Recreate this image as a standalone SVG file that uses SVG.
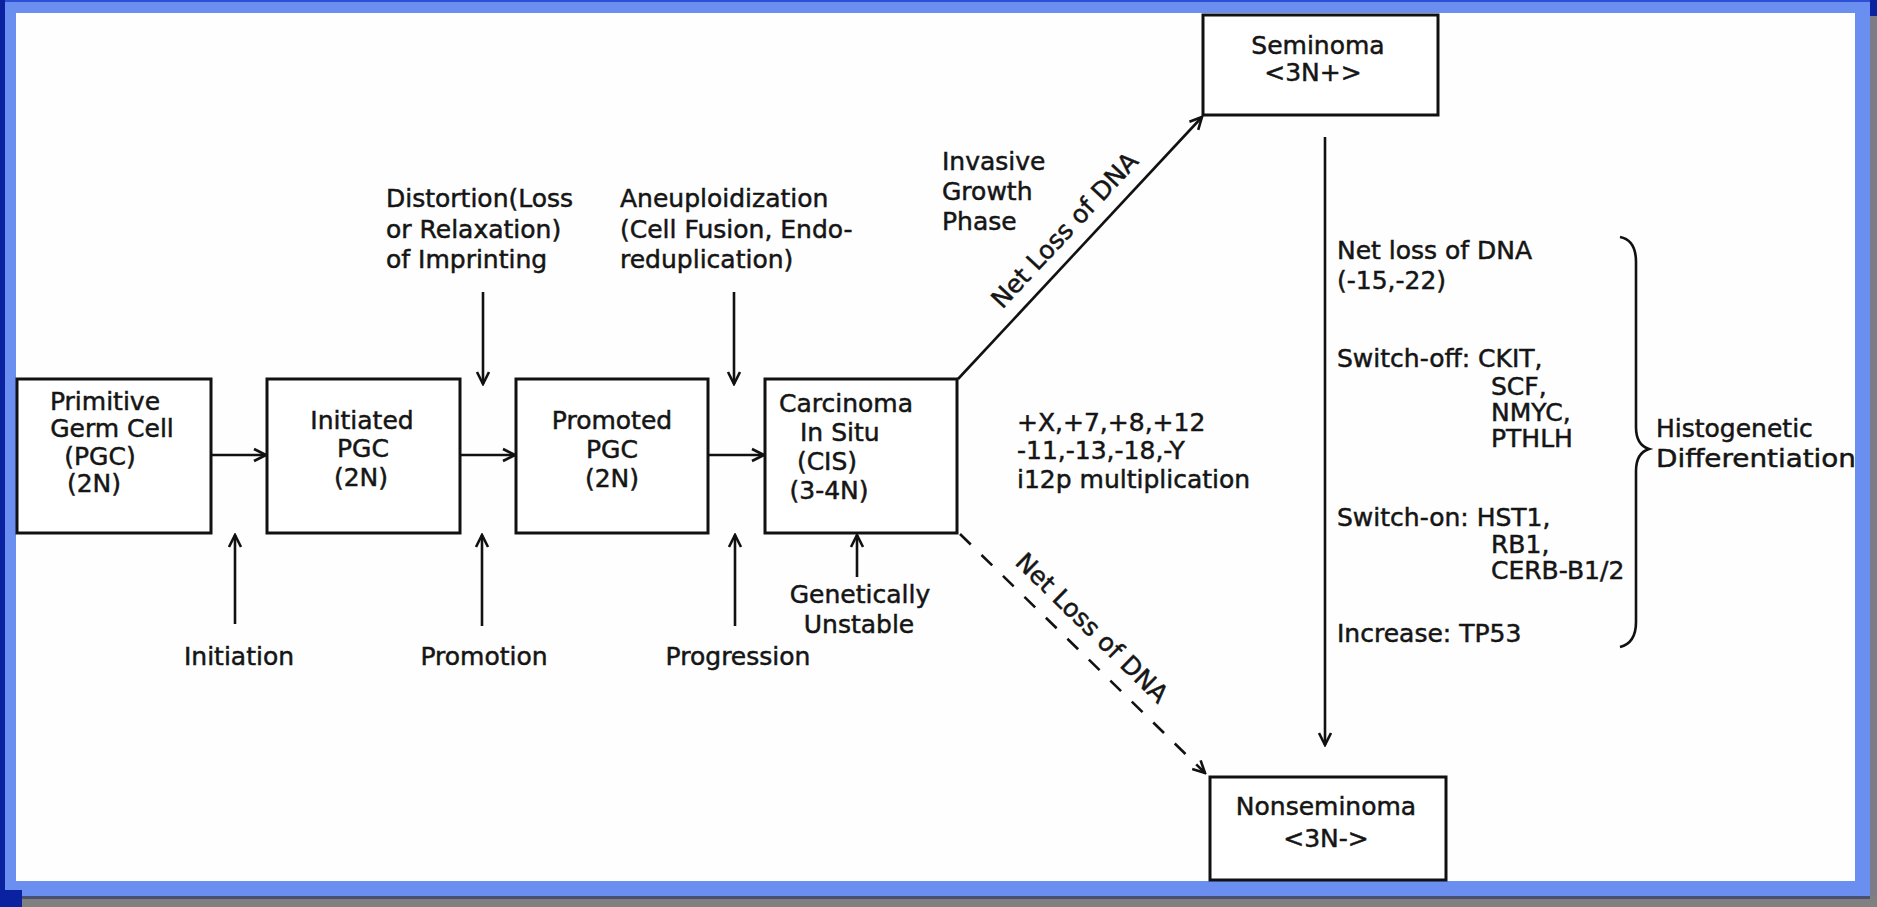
<svg xmlns="http://www.w3.org/2000/svg" width="1877" height="907" viewBox="0 0 1877 907">
<defs>
<marker id="arr" viewBox="0 0 16 16" refX="14" refY="8" markerWidth="16" markerHeight="16" markerUnits="userSpaceOnUse" orient="auto">
<path d="M2,2 L14,8 L2,14" fill="none" stroke="#111" stroke-width="2.6"/>
</marker>
</defs>
<style>
text{font-family:"DejaVu Sans","Liberation Sans",sans-serif;font-size:25px;fill:#151515;stroke:#151515;stroke-width:0.5}
.box{fill:#fff;stroke:#111;stroke-width:3}
.c{text-anchor:middle}
.ln{stroke:#111;stroke-width:2.6;fill:none}
</style>
<g id="frame">
<rect width="1877" height="907" fill="#6b8ff0"/>
<rect x="0" y="0" width="1877" height="2" fill="#2c4fd6"/>
<rect x="0" y="0" width="5" height="907" fill="#0b22a0"/>
<rect x="1870" y="0" width="7" height="907" fill="#7c7d86"/>
<rect x="1870" y="0" width="7" height="16" fill="#0b22a0"/>
<rect x="0" y="897" width="1877" height="10" fill="#808080"/>
<rect x="22" y="896" width="1848" height="3" fill="#4a5070"/>
<rect x="0" y="890" width="22" height="17" fill="#0b22a0"/>
<rect x="16" y="13" width="1839" height="868" fill="#fefefe"/>
</g>
<g id="connectors">
<line class="ln" x1="211" y1="455" x2="266" y2="455" marker-end="url(#arr)"/>
<line class="ln" x1="460" y1="455" x2="515" y2="455" marker-end="url(#arr)"/>
<line class="ln" x1="708" y1="455" x2="764" y2="455" marker-end="url(#arr)"/>
<line class="ln" x1="483" y1="292" x2="483" y2="384" marker-end="url(#arr)"/>
<line class="ln" x1="734" y1="292" x2="734" y2="384" marker-end="url(#arr)"/>
<line class="ln" x1="235" y1="624" x2="235" y2="535" marker-end="url(#arr)"/>
<line class="ln" x1="482" y1="626" x2="482" y2="535" marker-end="url(#arr)"/>
<line class="ln" x1="735" y1="626" x2="735" y2="535" marker-end="url(#arr)"/>
<line class="ln" x1="857" y1="577" x2="857" y2="535" marker-end="url(#arr)"/>
<line class="ln" x1="958" y1="379" x2="1202" y2="117" marker-end="url(#arr)"/>
<line class="ln" x1="960" y1="534" x2="1205" y2="773" stroke-dasharray="15 15" marker-end="url(#arr)"/>
<line class="ln" x1="1325" y1="137" x2="1325" y2="745" marker-end="url(#arr)"/>
<path class="ln" stroke-width="3.2" d="M1620,237 Q1636,240 1636,262 L1636,427 Q1636,445 1649,449 Q1636,453 1636,471 L1636,622 Q1636,643 1620,647"/>
</g>
<g id="pgc">
<rect class="box" x="17" y="379" width="194" height="154"/>
<text class="c" x="105" y="410">Primitive</text>
<text class="c" x="112" y="437">Germ Cell</text>
<text class="c" x="100" y="465">(PGC)</text>
<text class="c" x="94" y="492">(2N)</text>
</g>
<g id="initiated">
<rect class="box" x="267" y="379" width="193" height="154"/>
<text class="c" x="362" y="429">Initiated</text>
<text class="c" x="363" y="457">PGC</text>
<text class="c" x="361" y="486">(2N)</text>
</g>
<g id="promoted">
<rect class="box" x="516" y="379" width="192" height="154"/>
<text class="c" x="612" y="429">Promoted</text>
<text class="c" x="612" y="458">PGC</text>
<text class="c" x="612" y="487">(2N)</text>
</g>
<g id="cis">
<rect class="box" x="765" y="379" width="192" height="154"/>
<text class="c" x="846" y="412">Carcinoma</text>
<text x="800" y="441">In Situ</text>
<text class="c" x="827" y="470">(CIS)</text>
<text class="c" x="829" y="499">(3-4N)</text>
</g>
<g id="seminoma">
<rect class="box" x="1203" y="15" width="235" height="100"/>
<text class="c" x="1318" y="54">Seminoma</text>
<text class="c" x="1313" y="81">&lt;3N+&gt;</text>
</g>
<g id="nonseminoma">
<rect class="box" x="1210" y="777" width="236" height="103"/>
<text class="c" x="1326" y="815">Nonseminoma</text>
<text class="c" x="1326" y="847">&lt;3N-&gt;</text>
</g>
<g id="labels">
<text x="386" y="207">Distortion(Loss</text>
<text x="386" y="238">or Relaxation)</text>
<text x="386" y="268">of Imprinting</text>
<text x="620" y="207">Aneuploidization</text>
<text x="620" y="238">(Cell Fusion, Endo-</text>
<text x="620" y="268">reduplication)</text>
<text class="c" x="239" y="665">Initiation</text>
<text class="c" x="484" y="665">Promotion</text>
<text class="c" x="738" y="665">Progression</text>
<text class="c" x="860" y="603">Genetically</text>
<text class="c" x="859" y="633">Unstable</text>
<text x="942" y="170">Invasive</text>
<text x="942" y="200">Growth</text>
<text x="942" y="230">Phase</text>
<text class="c" transform="translate(1071,236) rotate(-47)">Net Loss of DNA</text>
<text class="c" transform="translate(1086,634) rotate(44.4)">Net Loss of DNA</text>
<text x="1017" y="431">+X,+7,+8,+12</text>
<text x="1017" y="459">-11,-13,-18,-Y</text>
<text x="1017" y="488">i12p multiplication</text>
<text x="1337" y="259">Net loss of DNA</text>
<text x="1337" y="289">(-15,-22)</text>
<text x="1337" y="367">Switch-off: CKIT,</text>
<text x="1491" y="395">SCF,</text>
<text x="1491" y="421">NMYC,</text>
<text x="1491" y="447">PTHLH</text>
<text x="1337" y="526">Switch-on: HST1,</text>
<text x="1491" y="553">RB1,</text>
<text x="1491" y="579">CERB-B1/2</text>
<text x="1337" y="642">Increase: TP53</text>
<text x="1656" y="437">Histogenetic</text>
<text x="1656" y="467" textLength="200" lengthAdjust="spacingAndGlyphs">Differentiation</text>
</g>
</svg>
